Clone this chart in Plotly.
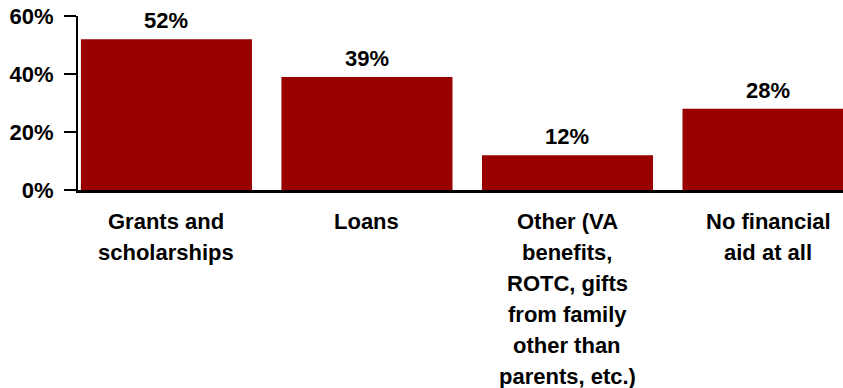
import plotly.graph_objects as go

# Share of students by type of financial aid received
categories = ["Grants and scholarships", "Loans", "Other", "No financial aid"]
values = [52, 39, 12, 28]
label_lines = [
    ["Grants and", "scholarships"],
    ["Loans"],
    ["Other (VA", "benefits,", "ROTC, gifts", "from family", "other than", "parents, etc.)"],
    ["No financial", "aid at all"],
]
y_ticks = [0, 20, 40, 60]
y_tick_text = ["0%", "20%", "40%", "60%"]

FONT = "Liberation Sans, Arial, sans-serif"
BAR_COLOR = "#990000"

fig = go.Figure(
    go.Bar(
        x=categories,
        y=values,
        marker=dict(color=BAR_COLOR, line=dict(width=0)),
        hoverinfo="skip",
    )
)

annotations = []
# value labels above each bar
for cat, val in zip(categories, values):
    annotations.append(dict(
        x=cat, y=val, xref="x", yref="y",
        text=f"<b>{val}%</b>", showarrow=False,
        yanchor="bottom", yshift=4,
        font=dict(family=FONT, size=22, color="#000"),
    ))
# multi-line category labels under the axis
for cat, lines in zip(categories, label_lines):
    for i, line in enumerate(lines):
        annotations.append(dict(
            x=cat, y=0, xref="x", yref="paper",
            text=f"<b>{line}</b>", showarrow=False,
            yanchor="middle", yshift=-31 - 31 * i,
            font=dict(family=FONT, size=22, color="#000"),
        ))

fig.update_layout(
    width=843, height=388,
    margin=dict(l=78, r=0, t=16, b=198),
    paper_bgcolor="white", plot_bgcolor="white",
    bargap=0.147,
    showlegend=False,
    annotations=annotations,
    xaxis=dict(
        range=[-0.441, 3.374],
        showticklabels=False, ticks="",
        showline=True, linecolor="#000", linewidth=2.5,
        showgrid=False, zeroline=False, fixedrange=True,
    ),
    yaxis=dict(
        range=[0, 60],
        tickvals=y_ticks, ticktext=[f"<b>{t}</b>" for t in y_tick_text],
        ticks="outside", ticklen=12, tickwidth=2, tickcolor="#000",
        ticklabelstandoff=6,
        tickfont=dict(family=FONT, size=22, color="#000"),
        showline=True, linecolor="#000", linewidth=2,
        showgrid=False, zeroline=False, fixedrange=True,
    ),
)

fig.write_html("out.html", config={"displayModeBar": False})
